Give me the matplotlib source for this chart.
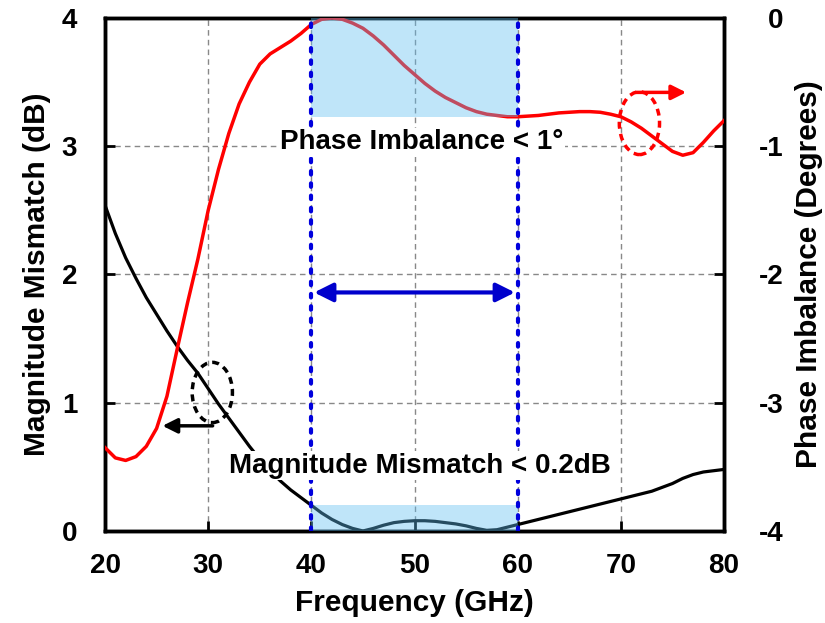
import numpy as np
import matplotlib.pyplot as plt
from matplotlib.patches import Ellipse

plt.rcParams['font.family'] = ['Liberation Sans', 'DejaVu Sans']
plt.rcParams['font.weight'] = 'bold'
plt.rcParams['axes.unicode_minus'] = False

# frequency points (GHz)
freq = list(range(20, 81))

# magnitude mismatch (dB), left axis
mag = [2.54, 2.32, 2.13, 1.97, 1.82, 1.69, 1.56, 1.44, 1.33, 1.23, 1.11,
       0.99, 0.88, 0.77, 0.66, 0.56, 0.47, 0.39, 0.32, 0.26, 0.20,
       0.14, 0.09, 0.05, 0.02, 0.00, 0.02, 0.045, 0.065, 0.075, 0.08,
       0.08, 0.075, 0.065, 0.055, 0.04, 0.02, 0.005, 0.01, 0.03, 0.05,
       0.07, 0.09, 0.11, 0.13, 0.15, 0.17, 0.19, 0.21, 0.23, 0.25,
       0.27, 0.29, 0.31, 0.34, 0.37, 0.41, 0.44, 0.46, 0.47, 0.48]

# phase imbalance (degrees), right axis
phase = [-3.35, -3.43, -3.45, -3.42, -3.34, -3.20, -2.95, -2.58, -2.22, -1.88, -1.50,
         -1.18, -0.90, -0.67, -0.50, -0.36, -0.28, -0.23, -0.18, -0.12, -0.05,
         -0.01, 0.00, -0.01, -0.04, -0.08, -0.14, -0.21, -0.29, -0.37, -0.44,
         -0.51, -0.57, -0.62, -0.66, -0.70, -0.73, -0.75, -0.76, -0.77, -0.77,
         -0.765, -0.76, -0.75, -0.74, -0.735, -0.73, -0.73, -0.735, -0.75, -0.77,
         -0.81, -0.86, -0.92, -0.98, -1.04, -1.07, -1.05, -0.97, -0.88, -0.80]

band = [40, 60]
mag_limit = 0.2
phase_limit = -0.77

fig = plt.figure(figsize=(8.25, 6.23), dpi=100)
ax = fig.add_axes([0.1273, 0.1477, 0.7503, 0.8234])
ax2 = ax.twinx()

ax.plot(freq, mag, color='black', lw=2.3, zorder=3)
ax2.plot(freq, phase, color='red', lw=2.5, zorder=3)

# shaded spec boxes, drawn over the curves
ax2.fill_between(band, -4, -4 + mag_limit, color=(0.375, 0.75, 0.95), alpha=0.4, lw=0, zorder=4)
ax2.fill_between(band, phase_limit, 0, color=(0.375, 0.75, 0.95), alpha=0.4, lw=0, zorder=4)
for b in band:
    ax2.axvline(b, color='#0000dd', lw=3, ls=(0, (0.85, 2.1)), dash_capstyle='round', zorder=5)

ax2.annotate('', xy=(40, -2.14), xytext=(60, -2.14),
             arrowprops=dict(arrowstyle='<|-|>', color='#0000cc', lw=3, mutation_scale=28), zorder=6)

ax2.text(50.7, -0.97, 'Phase Imbalance < 1°', ha='center', va='center', fontsize=20,
         fontweight='bold', zorder=7, bbox=dict(fc='white', ec='none', pad=1))
ax2.text(50.5, -3.49, 'Magnitude Mismatch < 0.2dB', ha='center', va='center', fontsize=20,
         fontweight='bold', zorder=7, bbox=dict(fc='white', ec='none', pad=1))

# axis pointers
ax2.add_patch(Ellipse((30.4, -2.92), 3.9, 0.47, fill=False, ec='black', lw=2.5, ls=(0, (2, 1.5)), zorder=6))
ax2.annotate('', xy=(25.3, -3.18), xytext=(30.7, -3.18),
             arrowprops=dict(arrowstyle='-|>', color='black', lw=2.5, mutation_scale=22), zorder=6)
ax2.add_patch(Ellipse((71.8, -0.82), 3.9, 0.49, fill=False, ec='red', lw=2.5, ls=(0, (2, 1.5)), zorder=6))
ax2.annotate('', xy=(76.6, -0.58), xytext=(71.2, -0.58),
             arrowprops=dict(arrowstyle='-|>', color='red', lw=2.5, mutation_scale=22), zorder=6)

ax.set_xlim(20, 80)
ax.set_ylim(0, 4)
ax2.set_ylim(-4, 0)
ax.set_xticks(range(20, 81, 10))
ax.set_yticks(range(0, 5))
ax2.set_yticks(range(-4, 1))

ax.grid(True, color='#888888', ls=(0, (4, 3)), lw=1)
ax.set_axisbelow(True)

for a in (ax, ax2):
    for s in a.spines.values():
        s.set_linewidth(2.5)
ax.tick_params(axis='both', direction='in', length=7, width=2, labelsize=20)
ax.tick_params(axis='y', pad=20)
ax.tick_params(axis='x', pad=16)
ax2.tick_params(axis='y', direction='in', length=7, width=2, labelsize=20, pad=43)
for t in ax2.get_yticklabels():
    t.set_horizontalalignment('right')
for t in ax.get_xticklabels() + ax.get_yticklabels() + ax2.get_yticklabels():
    t.set_fontweight('bold')

ax.set_xlabel('Frequency (GHz)', fontsize=21.5, fontweight='bold', labelpad=7)
ax.set_ylabel('Magnitude Mismatch (dB)', fontsize=21.5, fontweight='bold', labelpad=8)
ax2.set_ylabel('Phase Imbalance (Degrees)', fontsize=21.5, fontweight='bold', labelpad=8)

fig.savefig('out.png', dpi=100)
